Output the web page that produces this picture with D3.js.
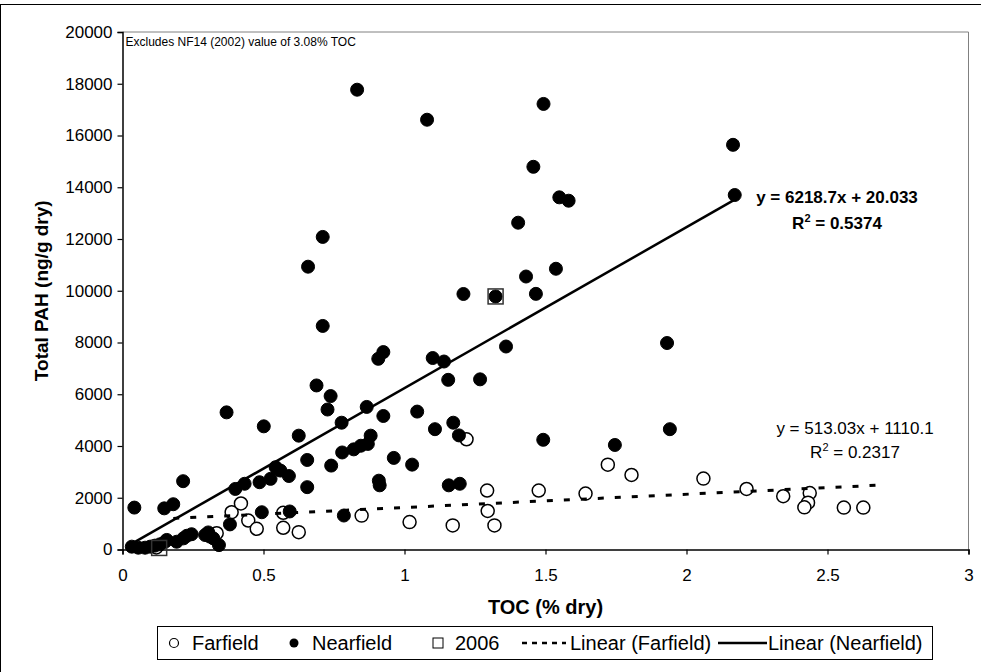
<!DOCTYPE html>
<html>
<head>
<meta charset="utf-8">
<script src="https://cdn.jsdelivr.net/npm/d3@7"></script>
<style>
  html, body { margin: 0; padding: 0; background: #fff; }
  svg { display: block; font-family: "Liberation Sans", Arial, sans-serif; }
</style>
</head>
<body>
<svg id="chart" width="981" height="672"></svg>
<script>
// ---------------- DATA ----------------
const farfieldX = [0.12, 0.334, 0.387, 0.42, 0.446, 0.476, 0.57, 0.57, 0.625, 0.848, 1.018, 1.171, 1.22, 1.293, 1.295, 1.319, 1.476, 1.642, 1.721, 1.805, 2.06, 2.213, 2.343, 2.437, 2.431, 2.418, 2.558, 2.627];
const farfieldY = [80, 630, 1440, 1780, 1120, 800, 1420, 840, 670, 1310, 1060, 930, 4260, 2280, 1490, 930, 2280, 2160, 3280, 2880, 2740, 2340, 2060, 2180, 1810, 1630, 1620, 1620];

const nearfieldX = [0.033, 0.056, 0.08, 0.098, 0.115, 0.133, 0.151, 0.157, 0.192, 0.216, 0.228, 0.245, 0.293, 0.304, 0.31, 0.322, 0.342,
  0.042, 0.148, 0.18, 0.215, 0.381, 0.40, 0.433, 0.486, 0.494, 0.525, 0.543, 0.56, 0.59, 0.593, 0.655, 0.655, 0.74, 0.785,
  0.779, 0.82, 0.845, 0.87, 0.88, 0.909, 0.912, 0.962, 1.027, 1.157, 1.196, 0.369, 0.501, 0.625, 0.71, 0.688, 0.738, 0.727,
  0.777, 0.866, 0.925, 1.045, 1.108, 1.173, 1.193, 1.492, 1.746, 1.941, 1.931, 0.925, 0.907, 1.10, 1.14, 1.155, 1.268, 1.36,
  1.209, 1.323, 1.466, 1.431, 1.537, 1.403, 1.457, 1.549, 1.582, 0.71, 0.658, 0.832, 1.08, 1.493, 2.165, 2.171];
const nearfieldY = [110, 70, 70, 110, 150, 200, 300, 370, 300, 430, 530, 590, 560, 660, 500, 430, 170,
  1620, 1590, 1750, 2640, 970, 2340, 2540, 2600, 1440, 2730, 3180, 3050, 2840, 1470, 3460, 2410, 3243, 1313,
  3750, 3870, 4010, 4080, 4400, 2660, 2480, 3540, 3280, 2480, 2540, 5300, 4760, 4400, 8640, 6340, 5930, 5410,
  4900, 5510, 5160, 5330, 4650, 4900, 4410, 4240, 4040, 4650, 7980, 7630, 7370, 7400, 7265, 6557, 6576, 7845,
  9875, 9780, 9880, 10550, 10850, 12630, 14790, 13610, 13480, 12080, 10930, 17770, 16610, 17220, 15640, 13700];

const y2006X = [0.13, 1.323];
const y2006Y = [60, 9780];

// trendlines: slope, intercept, x-range
const trendSlope = [513.03, 6218.7];
const trendIntercept = [1110.1, 20.033];
const trendXRange = [[0.18, 2.69], [0.035, 2.171]];
const trendLabel1 = ["y = 513.03x + 1110.1", "y = 6218.7x + 20.033"];
const trendR2 = ["0.2317", "0.5374"];

const xTicks = [0, 0.5, 1, 1.5, 2, 2.5, 3];
const yTicks = [0, 2000, 4000, 6000, 8000, 10000, 12000, 14000, 16000, 18000, 20000];
const legendLabels = ["Farfield", "Nearfield", "2006", "Linear (Farfield)", "Linear (Nearfield)"];

// ---------------- LAYOUT ----------------
const svg = d3.select("#chart");
const L = 122.5, R = 968.5, T = 32, B = 549.5;
const x = d3.scaleLinear().domain([0, 3]).range([L, R]);
const y = d3.scaleLinear().domain([0, 20000]).range([B, T]);

// outer chart frame
svg.append("rect").attr("x", 0.5).attr("y", 4.5).attr("width", 1000).attr("height", 700)
  .attr("fill", "#fff").attr("stroke", "#000").attr("stroke-width", 1);

// plot area border (top / right)
svg.append("path").attr("d", `M${L},${T}H${R}V${B}`).attr("fill", "none")
  .attr("stroke", "#808080").attr("stroke-width", 1);

// axes
const tickFont = 17;
const gx = svg.append("g").attr("transform", `translate(0,${B})`)
  .call(d3.axisBottom(x).tickValues(xTicks).tickSize(5).tickPadding(14).tickFormat(d3.format("")));
const gy = svg.append("g").attr("transform", `translate(${L},0)`)
  .call(d3.axisLeft(y).tickValues(yTicks).tickSize(5).tickPadding(5).tickFormat(d3.format("d")));
[gx, gy].forEach(g => {
  g.select(".domain").attr("stroke", "#000").attr("stroke-width", 1.5);
  g.selectAll(".tick line").attr("stroke", "#000").attr("stroke-width", 1.2);
  g.selectAll(".tick text").attr("fill", "#000").attr("font-size", tickFont)
    .attr("font-family", "'Liberation Sans', Arial, sans-serif");
});

// axis titles
svg.append("text").attr("x", x(1.5)).attr("y", 614).attr("text-anchor", "middle")
  .attr("font-size", 20).attr("font-weight", "bold").text("TOC (% dry)");
svg.append("text").attr("transform", `translate(48,${(T + B) / 2}) rotate(-90)`)
  .attr("text-anchor", "middle").attr("font-size", 19).attr("font-weight", "bold")
  .text("Total PAH (ng/g dry)");

// annotation
svg.append("text").attr("x", L + 3).attr("y", T + 14).attr("font-size", 12)
  .text("Excludes NF14 (2002) value of 3.08% TOC");

// ---------------- MARKS ----------------
const farfield = farfieldX.map((v, i) => [v, farfieldY[i]]);
const nearfield = nearfieldX.map((v, i) => [v, nearfieldY[i]]);
const s2006 = y2006X.map((v, i) => [v, y2006Y[i]]);

const MR = 6.5;
svg.append("g").selectAll("circle").data(farfield).join("circle")
  .attr("cx", d => x(d[0])).attr("cy", d => y(d[1])).attr("r", MR)
  .attr("fill", "#fff").attr("stroke", "#000").attr("stroke-width", 1.5);
svg.append("g").selectAll("circle").data(nearfield).join("circle")
  .attr("cx", d => x(d[0])).attr("cy", d => y(d[1])).attr("r", MR)
  .attr("fill", "#000").attr("stroke", "#000").attr("stroke-width", 1);
svg.append("g").selectAll("rect").data(s2006).join("rect")
  .attr("x", d => x(d[0]) - 7.5).attr("y", d => y(d[1]) - 7.5).attr("width", 15).attr("height", 15)
  .attr("fill", "none").attr("stroke", "#333").attr("stroke-width", 1.5);

// trendlines
const line = d3.line().x(d => x(d[0])).y(d => y(d[1]));
trendSlope.forEach((m, i) => {
  const pts = trendXRange[i].map(v => [v, m * v + trendIntercept[i]]);
  svg.append("path").attr("d", line(pts)).attr("fill", "none").attr("stroke", "#000")
    .attr("stroke-width", i === 0 ? 3 : 2.5)
    .attr("stroke-dasharray", i === 0 ? "6,11" : null);
});

// equations
function eq(xc, y1, y2, idx, bold) {
  const g = svg.append("g").attr("font-size", 17).attr("font-weight", bold ? "bold" : "normal");
  g.append("text").attr("x", xc).attr("y", y1).attr("text-anchor", "middle").text(trendLabel1[idx]);
  const t = g.append("text").attr("x", xc).attr("y", y2).attr("text-anchor", "middle");
  t.append("tspan").text("R");
  t.append("tspan").attr("dy", -7).attr("font-size", 11).text("2");
  t.append("tspan").attr("dy", 7).text(" = " + trendR2[idx]);
}
eq(855, 434, 458, 0, false);
eq(837, 203, 229, 1, true);

// ---------------- LEGEND ----------------
const lg = svg.append("g");
lg.append("rect").attr("x", 157.5).attr("y", 626.5).attr("width", 775).attr("height", 33)
  .attr("fill", "#fff").attr("stroke", "#000").attr("stroke-width", 1);
const ly = 643;
const lfs = 20;
// Farfield
lg.append("circle").attr("cx", 174).attr("cy", ly).attr("r", 4.5).attr("fill", "#fff").attr("stroke", "#000").attr("stroke-width", 1.2);
lg.append("text").attr("x", 192).attr("y", ly + 7).attr("font-size", lfs).text(legendLabels[0]);
// Nearfield
lg.append("circle").attr("cx", 294).attr("cy", ly).attr("r", 4.5).attr("fill", "#000");
lg.append("text").attr("x", 312).attr("y", ly + 7).attr("font-size", lfs).text(legendLabels[1]);
// 2006
lg.append("rect").attr("x", 433).attr("y", ly - 5).attr("width", 10).attr("height", 10).attr("fill", "none").attr("stroke", "#000").attr("stroke-width", 1);
lg.append("text").attr("x", 455).attr("y", ly + 7).attr("font-size", lfs).text(legendLabels[2]);
// Linear Farfield
lg.append("line").attr("x1", 522).attr("x2", 566).attr("y1", ly).attr("y2", ly).attr("stroke", "#000").attr("stroke-width", 2.5).attr("stroke-dasharray", "5,5");
lg.append("text").attr("x", 570).attr("y", ly + 7).attr("font-size", lfs).text(legendLabels[3]);
// Linear Nearfield
lg.append("line").attr("x1", 718).attr("x2", 767).attr("y1", ly).attr("y2", ly).attr("stroke", "#000").attr("stroke-width", 2.5);
lg.append("text").attr("x", 768).attr("y", ly + 7).attr("font-size", lfs).text(legendLabels[4]);
</script>
</body>
</html>
